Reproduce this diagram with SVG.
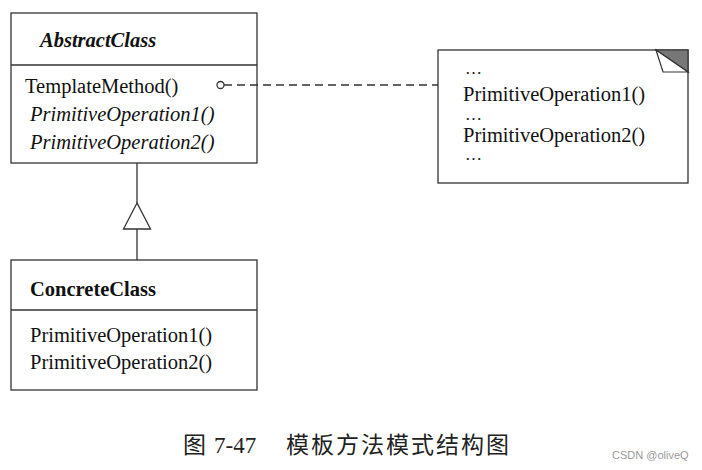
<svg xmlns="http://www.w3.org/2000/svg" width="702" height="470" viewBox="0 0 702 470">
  <style>
    .box { fill: #ffffff; stroke: #333333; stroke-width: 1.3; }
    .line { fill: none; stroke: #333333; stroke-width: 1.3; }
    .t { font-family: "Liberation Serif", "Times New Roman", serif; font-size: 20.5px; fill: #111111; }
    .e { font-family: "Liberation Serif", "Times New Roman", serif; font-size: 17px; fill: #111111; }
    .i { font-style: italic; }
    .b { font-weight: bold; }
    .cap { font-family: "Liberation Serif", "Noto Sans CJK SC", serif; font-size: 23px; fill: #222222; }
    .wm { font-family: "Liberation Sans", Arial, sans-serif; font-size: 11px; fill: #999999; }
  </style>
  <rect width="702" height="470" fill="#ffffff"/>

  <g id="AbstractClass">
    <rect class="box" x="11" y="13" width="246" height="150"/>
    <line class="line" x1="11" y1="65" x2="257" y2="65"/>
    <text class="t i b" x="40" y="47">AbstractClass</text>
    <text class="t" x="25" y="93">TemplateMethod()</text>
    <text class="t i" x="30" y="121">PrimitiveOperation1()</text>
    <text class="t i" x="30" y="149">PrimitiveOperation2()</text>
  </g>

  <g id="ConcreteClass">
    <rect class="box" x="11" y="260" width="246" height="130"/>
    <line class="line" x1="11" y1="310" x2="257" y2="310"/>
    <text class="t b" x="30" y="296">ConcreteClass</text>
    <text class="t" x="30" y="342">PrimitiveOperation1()</text>
    <text class="t" x="30" y="369">PrimitiveOperation2()</text>
  </g>

  <g id="note">
    <rect class="box" x="438" y="50" width="250" height="133"/>
    <polygon points="656,50 688,50 688,72" fill="#777777" stroke="#333333" stroke-width="1.2"/>
    <polygon points="656,50 663,72 688,72" fill="#ffffff" stroke="#333333" stroke-width="1.2"/>
    <text class="e" x="465" y="74">…</text>
    <text class="t" x="463" y="101">PrimitiveOperation1()</text>
    <text class="e" x="465" y="120">…</text>
    <text class="t" x="463" y="142">PrimitiveOperation2()</text>
    <text class="e" x="465" y="160">…</text>
  </g>

  <g id="connectors">
    <line class="line" x1="224" y1="85" x2="438" y2="85" stroke-dasharray="8 5"/>
    <circle cx="220.5" cy="85" r="3.5" class="box"/>
    <line class="line" x1="137" y1="163" x2="137" y2="203"/>
    <polygon class="box" points="137,203 123.5,229 150.5,229"/>
    <line class="line" x1="137" y1="229" x2="137" y2="260"/>
  </g>

  <g id="caption">
    <text class="cap" x="183" y="453">图</text>
    <text class="cap" x="214" y="453" font-family="Liberation Serif, serif">7-47</text>
    <text class="cap" x="286" y="453" letter-spacing="2">模板方法模式结构图</text>
    <text class="wm" x="612" y="459">CSDN @oliveQ</text>
  </g>
</svg>
